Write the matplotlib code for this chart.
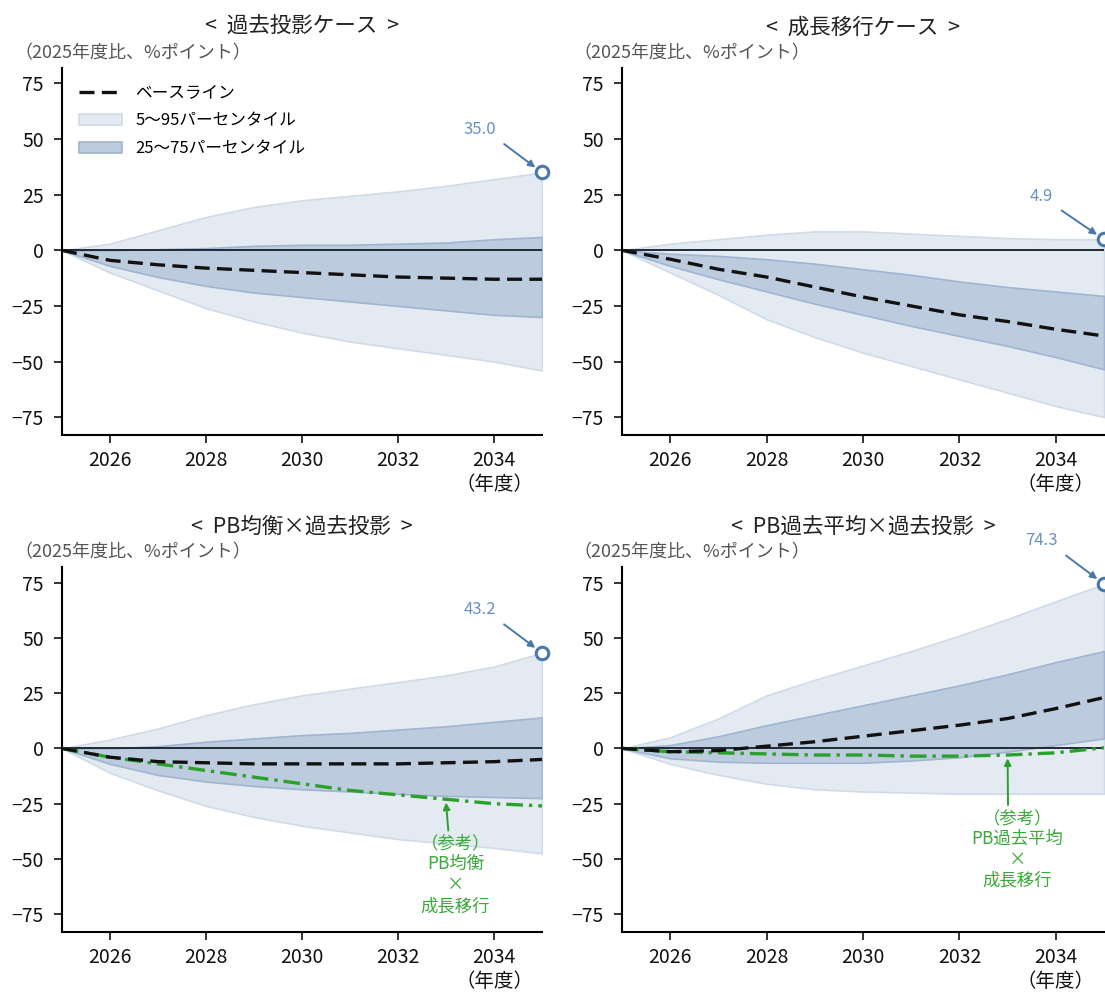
import matplotlib
matplotlib.use("Agg")
import matplotlib.pyplot as plt
import numpy as np

plt.rcParams['font.family'] = ['Noto Sans CJK JP', 'DejaVu Sans']

years = list(range(2025, 2036))

titles = ["<  過去投影ケース  >", "<  成長移行ケース  >",
          "<  PB均衡×過去投影  >", "<  PB過去平均×過去投影  >"]

p95 = [
    [0, 3, 9, 15, 19.5, 22.5, 24.5, 26.5, 29, 32, 35.0],
    [0, 3, 5, 7, 8.5, 8.5, 7.5, 6.5, 5.5, 5, 4.9],
    [0, 4, 9, 15, 20, 24, 27, 30, 33, 37, 43.2],
    [0, 5, 13.5, 24, 31, 37.5, 44, 51, 58.5, 66.5, 74.3],
]
p75 = [
    [0, 0, 0.5, 1, 2, 2.5, 2.5, 3, 3.5, 5, 6],
    [0, -1.5, -2.5, -4, -6, -8.5, -11, -14, -16.5, -18.5, -20.5],
    [0, 0, 1, 3, 4.5, 6, 7, 8.5, 10, 12, 14],
    [0, 1.5, 5.5, 10.5, 15, 19.5, 24, 28.5, 33.5, 39, 44],
]
baseline = [
    [0, -4.5, -6.5, -8, -9, -10, -11, -12, -12.5, -13, -13],
    [0, -4, -8.5, -12, -16.5, -21, -25, -29, -32, -35.5, -38.5],
    [0, -4, -6, -6.5, -7, -7, -7, -7, -6.5, -6, -5],
    [0, -1.5, -1, 1, 3, 5.5, 8, 10.5, 13.5, 18, 23],
]
p25 = [
    [0, -7, -12, -16, -19, -21, -23, -25, -27, -29, -30],
    [0, -7, -13, -18.5, -24, -29, -34, -38.5, -43, -48, -53.5],
    [0, -7, -12, -15, -17, -18.5, -19.5, -20.5, -21.5, -22, -22.5],
    [0, -4.5, -6, -6.5, -6.5, -6.5, -5.5, -4, -1.5, 1.5, 4.5],
]
p5 = [
    [0, -10, -18, -26, -32, -37, -41, -44, -47, -50, -54],
    [0, -10, -20, -31, -39, -46, -52, -58, -64, -70, -75],
    [0, -11, -19, -26, -31, -35, -38, -41, -43, -45, -47.5],
    [0, -7, -12, -16, -18.5, -19.5, -20, -20.5, -20.5, -20.5, -20.5],
]
reference = [
    None,
    None,
    [0, -4, -7, -10, -13, -16, -19, -21, -23, -25, -26],
    [0, -1.5, -2, -2.5, -3, -3, -3.5, -3.5, -3, -2, 0.3],
]
ref_labels = [None, None, "（参考）\nPB均衡\n×\n成長移行", "（参考）\nPB過去平均\n×\n成長移行"]
ref_text_y = [None, None, -39, -27.5]

yticks = [-75, -50, -25, 0, 25, 50, 75]
xticks = [2026, 2028, 2030, 2032, 2034]
xticklabels = ["2026", "2028", "2030", "2032", "2034\n（年度）"]
ylabel_text = "（2025年度比、%ポイント）"

blue = "#4a78a8"
num_col = "#6a90bf"
green = "#2ca02c"
green_txt = "#3aaa3a"

fig = plt.figure(figsize=(11.05, 9.96), dpi=100)
positions = [
    [0.0561, 0.5633, 0.4344, 0.3685],
    [0.5629, 0.5633, 0.4362, 0.3685],
    [0.0561, 0.0643, 0.4344, 0.3664],
    [0.5629, 0.0643, 0.4362, 0.3664],
]

for i in range(4):
    ax = fig.add_axes(positions[i])
    x = np.array(years)
    ax.fill_between(x, p5[i], p95[i], facecolor="#e4eaf2", edgecolor="#cfdbe9",
                    linewidth=1.2, zorder=1, label="5〜95パーセンタイル")
    ax.fill_between(x, p25[i], p75[i], facecolor="#bccbdd", edgecolor="#9fb5d0",
                    linewidth=1.2, zorder=2, label="25〜75パーセンタイル")
    ax.axhline(0, color="#1f2a36", lw=1.4, zorder=3)
    ax.plot(x, baseline[i], color="#111111", lw=2.4, dashes=(4.5, 2.2),
            zorder=5, label="ベースライン")
    if reference[i] is not None:
        ax.plot(x, reference[i], color=green, lw=2.4, dashes=(5, 1.8, 1, 1.8),
                zorder=4)
        yref = reference[i][years.index(2033)]
        ax.annotate(ref_labels[i], xy=(2033, yref - 1.5),
                    xytext=(2033.2, ref_text_y[i]), ha="center", va="top",
                    color=green_txt, fontsize=12.5, linespacing=1.2,
                    arrowprops=dict(arrowstyle="-|>", color=green, lw=1.4,
                                    mutation_scale=10, shrinkA=1, shrinkB=0,
                                    relpos=(0.4, 1.0)))
    # end marker and annotation
    yend = p95[i][-1]
    ax.plot([2035], [yend], marker="o", ms=9, mfc="white", mec=blue, mew=2.2,
            zorder=6, clip_on=False)
    ax.annotate(f"{yend:.1f}", xy=(2035, yend), xytext=(-45, 25),
                textcoords="offset points", color=num_col, fontsize=12,
                ha="center", va="bottom",
                arrowprops=dict(arrowstyle="-|>", color=blue, lw=1.4,
                                mutation_scale=10, shrinkA=5, shrinkB=6,
                                relpos=(1.0, 0.0)))
    ax.set_xlim(2025, 2035)
    ax.set_ylim(-83, 82)
    ax.set_yticks(yticks)
    ax.set_xticks(xticks)
    ax.set_xticklabels(xticklabels)
    ax.tick_params(labelsize=14, length=6, width=1.2, colors="#111111")
    ax.tick_params(axis="x", pad=5)
    ax.tick_params(axis="y", pad=7)
    for s in ["top", "right"]:
        ax.spines[s].set_visible(False)
    for s in ["left", "bottom"]:
        ax.spines[s].set_linewidth(1.5)
    ax.set_title(titles[i], fontsize=15.5, color="#222222", pad=25)
    ax.text(-0.1, 1.015, ylabel_text, transform=ax.transAxes, fontsize=13,
            color="#555555", ha="left", va="bottom")
    ax.set_facecolor("white")
    if i == 0:
        h, l = ax.get_legend_handles_labels()
        order = [l.index("ベースライン"), l.index("5〜95パーセンタイル"),
                 l.index("25〜75パーセンタイル")]
        ax.legend([h[k] for k in order], [l[k] for k in order], loc="upper left",
                  frameon=False, fontsize=12, handlelength=2.6,
                  borderaxespad=0.6, labelspacing=0.65, handletextpad=0.8)

fig.savefig("out.png", dpi=100)
